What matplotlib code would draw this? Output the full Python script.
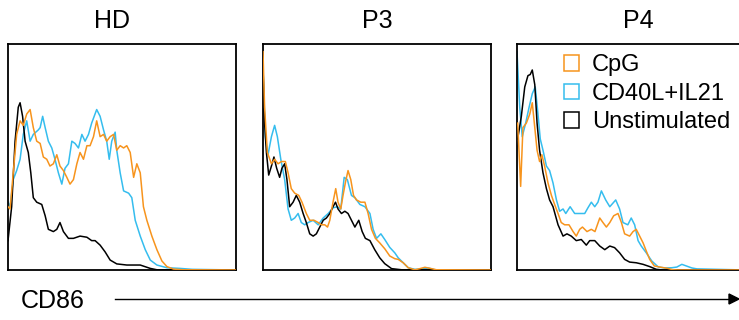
import matplotlib
matplotlib.use('Agg')
import matplotlib.pyplot as plt
from matplotlib.patches import Patch

plt.rcParams['font.family'] = ['Liberation Sans', 'DejaVu Sans']

ORANGE = '#F7941D'
BLUE = '#35BDEE'
BLACK = '#000000'

# CD86 histograms, x = fluorescence (0-100 scale), y = % of max
# HD
hd_unstim_x = [0, 1.6, 3.1, 4.5, 5.3, 6.4, 7.5, 8.9, 10.0, 11.1, 12.6, 14.8, 16.3, 17.7, 19.9,
               21.4, 22.8, 24.3, 26.5, 28.7, 31.6, 34.6, 36.7, 38.2, 40.4, 42.6, 44.8, 47.7,
               52.1, 58.0, 62.4, 65.3, 100]
hd_unstim_y = [13, 28, 57, 72, 74, 68, 57, 52, 43, 32, 30, 29, 24, 18, 17,
               18, 21, 17, 14, 14, 15, 14.5, 13, 13, 11, 8, 4.4, 2.7,
               2.2, 2.2, 0.7, 0.1, 0]
hd_cpg_x = [0, 0.9, 2.3, 3.8, 5.3, 6.7, 8.2, 9.7, 11.1, 12.6, 14.1, 15.5, 17.0, 18.4, 19.9,
            21.4, 22.8, 24.3, 25.8, 27.2, 28.7, 30.2, 31.6, 33.1, 34.6, 36.0, 37.5, 38.9,
            40.4, 41.9, 43.3, 44.8, 46.3, 47.7, 49.2, 50.7, 52.1, 53.6, 55.1, 56.5, 58.0,
            59.4, 60.9, 63.1, 65.3, 67.5, 69.7, 72.6, 77.0, 100]
hd_cpg_y = [28, 27, 43, 60, 66, 64, 69, 71, 63, 57, 56, 50, 49, 46, 47,
            51, 46, 44, 41, 38, 40, 47, 52, 49, 55, 55, 59, 66,
            59, 60, 57, 59, 60, 53, 55, 54, 55, 52, 41, 47, 43,
            28, 22, 15, 9, 4, 1.5, 0.4, 0.1, 0]
hd_cd40_x = [0, 0.9, 2.3, 3.8, 5.3, 6.7, 8.2, 9.7, 11.1, 13.3, 14.1, 15.2, 16.3, 17.7, 19.2,
             20.6, 22.1, 23.6, 25.0, 26.5, 28.0, 29.4, 30.9, 32.4, 33.8, 35.3, 36.7, 38.9,
             40.4, 41.9, 43.3, 44.4, 45.5, 47.0, 47.7, 49.2, 50.7, 52.9, 54.3, 55.8, 58.0,
             60.2, 62.4, 65.3, 69.7, 75.5, 80.7, 100]
hd_cd40_y = [30, 28, 40, 44, 49, 60, 66, 57, 60, 62, 63, 68, 63, 57, 54,
             49, 43, 38, 45, 47, 57, 56, 54, 60, 57, 60, 65, 71,
             68, 62, 57, 49, 57, 61, 53, 43, 35, 34, 32, 22, 15,
             9, 4.4, 2.2, 1, 0.7, 0.3, 0]

# P3
p3_unstim_x = [0, 0.7, 1.5, 2.5, 3.7, 4.8, 6.0, 7.3, 8.3, 9.5, 10.5, 11.7, 13.2, 14.6, 16.1,
               17.6, 19.0, 20.5, 22.0, 23.4, 24.9, 26.4, 27.8, 29.3, 30.7, 31.8, 32.9, 34.4,
               35.9, 37.3, 38.8, 40.3, 42.0, 43.5, 44.9, 46.9, 49.0, 51.2, 53.4, 56.4, 60.8, 100]
p3_unstim_y = [90, 65, 52, 42, 46, 50, 45, 41, 45, 47, 40, 28, 30, 33, 30,
               25, 21, 16, 15, 16, 19, 22, 23, 25, 28, 30, 27, 25,
               26, 25, 22, 19, 22, 17, 14, 13, 9, 5.4, 2.8, 0.6, 0.1, 0]
p3_cd40_x = [0, 1.0, 2.2, 3.7, 5.1, 6.3, 7.8, 9.5, 11.0, 12.4, 13.9, 15.4, 16.8, 18.3, 19.8,
             22.0, 24.2, 26.4, 28.6, 30.7, 32.6, 34.1, 35.6, 37.0, 38.8, 40.3, 42.5, 44.7,
             46.9, 48.3, 49.8, 51.7, 53.4, 55.6, 57.8, 59.3, 61.5, 63.7, 66.6, 69.5, 72.5,
             75.4, 100]
p3_cd40_y = [90, 59, 51, 59, 64, 59, 49, 40, 27, 22, 23, 25, 21, 20, 21,
             22, 20, 23, 25, 27.5, 28, 27, 41, 40, 33, 32, 29, 28,
             25, 18, 14, 16, 13.5, 10, 7.6, 5.4, 3.2, 1, 0.3, 0.4, 0.9,
             0.1, 0]
p3_cpg_x = [0, 0.7, 1.9, 3.7, 5.1, 6.6, 8.1, 9.8, 11.0, 12.4, 13.9, 15.7, 17.1, 19.0, 20.5,
            22.4, 24.2, 25.6, 27.1, 28.3, 29.3, 30.7, 31.9, 32.9, 34.1, 35.1, 36.2, 37.3,
            38.5, 39.7, 41.0, 42.9, 44.7, 46.1, 47.6, 49.3, 51.2, 53.4, 55.6, 57.8, 59.3,
            61.5, 63.7, 66.6, 68.8, 71.0, 73.9, 76.1, 100]
p3_cpg_y = [96.6, 72, 52, 47, 49, 47, 48, 48, 43, 36, 34, 33, 30, 25, 22,
            22, 21, 20, 20, 19, 22, 30, 36, 30, 27, 33, 39, 44,
            40, 33, 31, 30, 30, 25, 18, 14, 12, 9.4, 6.2, 5, 4.7,
            3.2, 1, 0.1, 0.6, 1.2, 0.6, 0.1, 0]

# P4
p4_unstim_x = [0.3, 1.9, 3.4, 4.8, 5.8, 6.7, 7.8, 8.8, 9.9, 11.4, 12.9, 14.3, 15.8, 18.0, 20.2,
               21.9, 23.8, 26.0, 28.2, 30.4, 31.9, 34.1, 36.3, 38.5, 40.7, 42.8, 45.0, 47.2,
               49.4, 52.3, 55.3, 58.2, 61.1, 64.0, 100]
p4_unstim_y = [58, 68, 81, 86, 86.5, 88.5, 82, 65, 53, 43, 36, 31, 28, 20, 15,
               16, 15, 13, 13.5, 11, 13, 13, 10.6, 9, 10.6, 9.9, 7.6, 4.7,
               3.5, 3.2, 2.5, 1.5, 0.3, 0, 0]
p4_cd40_x = [0, 1.2, 2.3, 3.8, 5.3, 6.7, 8.0, 9.2, 10.2, 11.4, 12.9, 14.3, 15.8, 17.3, 18.7,
             20.2, 21.4, 23.3, 25.3, 27.5, 29.7, 31.1, 32.6, 34.1, 35.5, 37.0, 38.9, 40.7,
             43.3, 45.0, 46.5, 48.6, 50.1, 51.6, 53.1, 54.5, 56.7, 59.1, 62.0, 64.9, 67.9,
             70.1, 72.3, 76.7, 78.9, 100]
p4_cd40_y = [96.6, 72, 59, 65, 72, 78, 81, 69, 58, 53, 46, 44, 38.5, 31, 26,
             27, 25, 28, 25, 25, 25, 27.5, 30, 28, 30, 35, 31, 28,
             31, 27, 21, 20, 23, 20, 13, 10.6, 7.6, 4, 1.3, 0.9, 1,
             1.3, 2.5, 0.9, 0.5, 0]
p4_cpg_x = [0.3, 1.6, 2.6, 4.1, 5.6, 6.7, 7.8, 8.8, 9.9, 10.9, 12.1, 13.6, 15.1, 16.5, 18.0,
            19.4, 20.9, 22.8, 24.6, 26.0, 27.5, 28.7, 30.7, 32.6, 34.2, 36.3, 37.7, 39.2,
            40.7, 42.4, 44.3, 45.8, 47.2, 49.4, 50.9, 52.3, 53.8, 55.3, 56.7, 58.2, 60.2,
            63.2, 66.2, 68.4, 70.5, 100]
p4_cpg_y = [65, 37, 63, 65, 69, 74, 63, 53, 48, 51, 46, 38.5, 33, 29, 25,
            21, 20, 20, 17, 15, 18, 19, 17, 18, 17, 23, 21, 19,
            21, 24, 25, 21, 16, 15, 17, 18, 15, 12, 8.4, 4.7, 1.8,
            1.2, 0.7, 0.1, 0, 0]

panels = [
    ('HD', hd_cpg_x, hd_cpg_y, hd_cd40_x, hd_cd40_y, hd_unstim_x, hd_unstim_y),
    ('P3', p3_cpg_x, p3_cpg_y, p3_cd40_x, p3_cd40_y, p3_unstim_x, p3_unstim_y),
    ('P4', p4_cpg_x, p4_cpg_y, p4_cd40_x, p4_cd40_y, p4_unstim_x, p4_unstim_y),
]
panel_lefts = [8, 263, 517]
title_centres = [112, 377, 638]

W, H = 739, 320
fig = plt.figure(figsize=(W / 100, H / 100), dpi=100)

axes = []
for (name, cx, cy, bx, by, ux, uy), left, tc in zip(panels, panel_lefts, title_centres):
    ax = fig.add_axes([left / W, 50 / H, 228 / W, 226 / H])
    ax.plot(ux, uy, color=BLACK, lw=1.1, zorder=3)
    ax.plot(bx, by, color=BLUE, lw=1.1, zorder=2)
    ax.plot(cx, cy, color=ORANGE, lw=1.1, zorder=4)
    ax.set_xlim(0, 100)
    ax.set_ylim(0, 100)
    ax.set_xticks([])
    ax.set_yticks([])
    for sp in ax.spines.values():
        sp.set_linewidth(1.3)
    fig.text(tc / W, 1 - 28 / H, name, ha='center', va='baseline', fontsize=18)
    axes.append(ax)

handles = [Patch(facecolor='none', edgecolor=ORANGE, lw=1.1, label='CpG'),
           Patch(facecolor='none', edgecolor=BLUE, lw=1.1, label='CD40L+IL21'),
           Patch(facecolor='none', edgecolor=BLACK, lw=1.1, label='Unstimulated')]
axes[2].legend(handles=handles, loc='upper left', bbox_to_anchor=(0.205, 0.955),
               frameon=False, fontsize=17, handlelength=0.65, handleheight=0.65,
               handletextpad=0.55, labelspacing=0.28, borderaxespad=0, borderpad=0)

fig.text(21 / W, 1 - 308 / H, 'CD86', ha='left', va='baseline', fontsize=18)
fig.add_artist(plt.Line2D([115 / W, 730 / W], [1 - 299 / H, 1 - 299 / H],
                          color='black', lw=1.0))
fig.patches.append(plt.Polygon([[729 / W, 1 - 294 / H], [739 / W, 1 - 299 / H],
                                [729 / W, 1 - 304 / H]], closed=True, color='black',
                               transform=fig.transFigure, figure=fig))

fig.savefig('out.png', dpi=100)
